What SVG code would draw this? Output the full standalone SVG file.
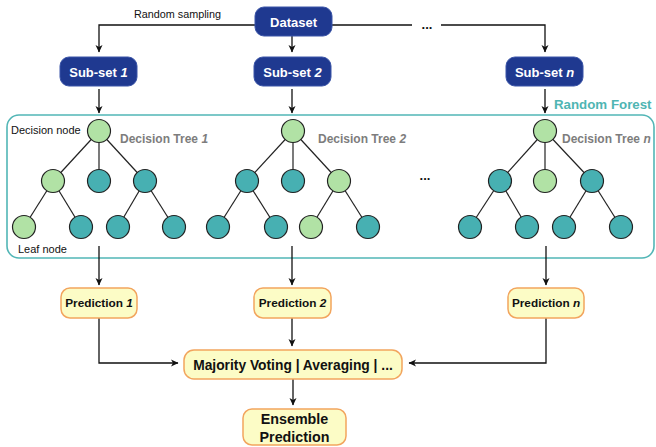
<svg xmlns="http://www.w3.org/2000/svg" width="656" height="447" viewBox="0 0 656 447">
<defs>
<marker id="ah" markerWidth="8" markerHeight="8" refX="7" refY="4" orient="auto" markerUnits="userSpaceOnUse">
<path d="M0,0.5 L7.5,4 L0,7.5 L2,4 Z" fill="#111"/>
</marker>
<style>
.blue{fill:#1F3990;stroke:#3b55a8;stroke-width:1}
.wt{fill:#fff;font-family:"Liberation Sans",Arial,sans-serif;font-weight:bold;font-size:13px;text-anchor:middle}
.yel{fill:#FCFCC6;stroke:#F2A55E;stroke-width:1.5}
.bt{fill:#111;font-family:"Liberation Sans",Arial,sans-serif;font-weight:bold;text-anchor:middle}
.con{fill:none;stroke:#111;stroke-width:1.3}
.edge{stroke:#222;stroke-width:1.2}
.g{fill:#B1E2A5;stroke:#222;stroke-width:1.2}
.t{fill:#47B0B2;stroke:#222;stroke-width:1.2}
.dt{fill:#7d7d7d;font-family:"Liberation Sans",Arial,sans-serif;font-weight:bold;font-size:12px}
.lbl{fill:#111;font-family:"Liberation Sans",Arial,sans-serif;font-size:11px}
</style>
</defs>

<rect id="forest-frame" x="7" y="115" width="647" height="143" rx="12" fill="none" stroke="#52B6B6" stroke-width="1.6"/>
<text x="554" y="109" font-family="Liberation Sans, Arial, sans-serif" font-weight="bold" font-size="13.3px" fill="#4FB5B3">Random Forest</text>

<g id="connectors">
<path class="con" d="M255,25 H99 V52" marker-end="url(#ah)"/>
<path class="con" d="M292,36 V52" marker-end="url(#ah)"/>
<path class="con" d="M332,25 H412"/>
<path class="con" d="M441,25 H545 V52" marker-end="url(#ah)"/>
<path class="con" d="M99,89 V113" marker-end="url(#ah)"/>
<path class="con" d="M292,89 V113" marker-end="url(#ah)"/>
<path class="con" d="M545,89 V113" marker-end="url(#ah)"/>
<path class="con" d="M99,246 V285" marker-end="url(#ah)"/>
<path class="con" d="M292,246 V285" marker-end="url(#ah)"/>
<path class="con" d="M546,246 V285" marker-end="url(#ah)"/>
<path class="con" d="M99,318 V363 H178" marker-end="url(#ah)"/>
<path class="con" d="M292,318 V346" marker-end="url(#ah)"/>
<path class="con" d="M546,318 V363 H409" marker-end="url(#ah)"/>
<path class="con" d="M293,379 V405" marker-end="url(#ah)"/>
</g>
<text x="134" y="18" font-family="Liberation Sans, Arial, sans-serif" font-size="10.8px" fill="#111">Random sampling</text>
<text x="427" y="29" class="bt" font-size="13px">...</text>

<g id="dataset">
<rect class="blue" x="255" y="7" width="77" height="29" rx="9"/>
<text class="wt" x="293.5" y="26.5" font-size="14.5px">Dataset</text>
</g>
<g id="subset-1">
<rect class="blue" x="60" y="57" width="77" height="29" rx="9"/>
<text class="wt" x="98.5" y="76.5">Sub-set <tspan font-style="italic">1</tspan></text>
</g>
<g id="subset-2">
<rect class="blue" x="254" y="57" width="77" height="29" rx="9"/>
<text class="wt" x="292.5" y="76.5">Sub-set <tspan font-style="italic">2</tspan></text>
</g>
<g id="subset-n">
<rect class="blue" x="506" y="57" width="77" height="29" rx="9"/>
<text class="wt" x="544.5" y="76.5">Sub-set <tspan font-style="italic">n</tspan></text>
</g>

<g id="tree-1">
<line class="edge" x1="99" y1="131" x2="53" y2="181"/>
<line class="edge" x1="99" y1="131" x2="99" y2="181"/>
<line class="edge" x1="99" y1="131" x2="145" y2="181"/>
<line class="edge" x1="53" y1="181" x2="24" y2="227"/>
<line class="edge" x1="53" y1="181" x2="81" y2="227"/>
<line class="edge" x1="145" y1="181" x2="118" y2="227"/>
<line class="edge" x1="145" y1="181" x2="174" y2="227"/>
<circle class="g" cx="99" cy="131" r="11.5"/>
<circle class="g" cx="53" cy="181" r="11.5"/>
<circle class="t" cx="99" cy="181" r="11.5"/>
<circle class="t" cx="145" cy="181" r="11.5"/>
<circle class="g" cx="24" cy="227" r="11.5"/>
<circle class="t" cx="81" cy="227" r="11.5"/>
<circle class="t" cx="118" cy="227" r="11.5"/>
<circle class="t" cx="174" cy="227" r="11.5"/>
<text class="dt" x="120" y="143">Decision Tree <tspan font-style="italic">1</tspan></text>
<text class="lbl" x="11" y="134">Decision node</text>
<text class="lbl" x="18" y="253">Leaf node</text>
</g>

<g id="tree-2">
<line class="edge" x1="293" y1="131" x2="247" y2="181"/>
<line class="edge" x1="293" y1="131" x2="293" y2="181"/>
<line class="edge" x1="293" y1="131" x2="339" y2="181"/>
<line class="edge" x1="247" y1="181" x2="218" y2="227"/>
<line class="edge" x1="247" y1="181" x2="276" y2="227"/>
<line class="edge" x1="339" y1="181" x2="311" y2="227"/>
<line class="edge" x1="339" y1="181" x2="368" y2="227"/>
<circle class="g" cx="293" cy="131" r="11.5"/>
<circle class="t" cx="247" cy="181" r="11.5"/>
<circle class="t" cx="293" cy="181" r="11.5"/>
<circle class="g" cx="339" cy="181" r="11.5"/>
<circle class="t" cx="218" cy="227" r="11.5"/>
<circle class="t" cx="276" cy="227" r="11.5"/>
<circle class="g" cx="311" cy="227" r="11.5"/>
<circle class="t" cx="368" cy="227" r="11.5"/>
<text class="dt" x="318" y="143">Decision Tree <tspan font-style="italic">2</tspan></text>
</g>

<text x="425" y="180" class="bt" font-size="13px">...</text>

<g id="tree-n">
<line class="edge" x1="545" y1="131" x2="500" y2="181"/>
<line class="edge" x1="545" y1="131" x2="545" y2="181"/>
<line class="edge" x1="545" y1="131" x2="592" y2="181"/>
<line class="edge" x1="500" y1="181" x2="470" y2="227"/>
<line class="edge" x1="500" y1="181" x2="527" y2="227"/>
<line class="edge" x1="592" y1="181" x2="564" y2="227"/>
<line class="edge" x1="592" y1="181" x2="621" y2="227"/>
<circle class="g" cx="545" cy="131" r="11.5"/>
<circle class="t" cx="500" cy="181" r="11.5"/>
<circle class="g" cx="545" cy="181" r="11.5"/>
<circle class="t" cx="592" cy="181" r="11.5"/>
<circle class="t" cx="470" cy="227" r="11.5"/>
<circle class="t" cx="527" cy="227" r="11.5"/>
<circle class="t" cx="564" cy="227" r="11.5"/>
<circle class="t" cx="621" cy="227" r="11.5"/>
<text class="dt" x="562" y="143">Decision Tree <tspan font-style="italic">n</tspan></text>
</g>

<g id="prediction-1">
<rect class="yel" x="61" y="288" width="76" height="30" rx="9"/>
<text class="bt" x="99" y="307" font-size="11.8px">Prediction <tspan font-style="italic">1</tspan></text>
</g>
<g id="prediction-2">
<rect class="yel" x="254" y="288" width="77" height="30" rx="9"/>
<text class="bt" x="292.5" y="307" font-size="11.8px">Prediction <tspan font-style="italic">2</tspan></text>
</g>
<g id="prediction-n">
<rect class="yel" x="508" y="288" width="76" height="30" rx="9"/>
<text class="bt" x="546" y="307" font-size="11.8px">Prediction <tspan font-style="italic">n</tspan></text>
</g>
<g id="aggregation">
<rect class="yel" x="184" y="350" width="218" height="29" rx="10"/>
<text class="bt" x="293" y="369.5" font-size="13.8px">Majority Voting | Averaging | ...</text>
</g>
<g id="ensemble">
<rect class="yel" x="243" y="409" width="103" height="36" rx="9"/>
<text class="bt" x="294.5" y="424" font-size="14.3px">Ensemble</text>
<text class="bt" x="294.5" y="442" font-size="14.3px">Prediction</text>
</g>
</svg>
